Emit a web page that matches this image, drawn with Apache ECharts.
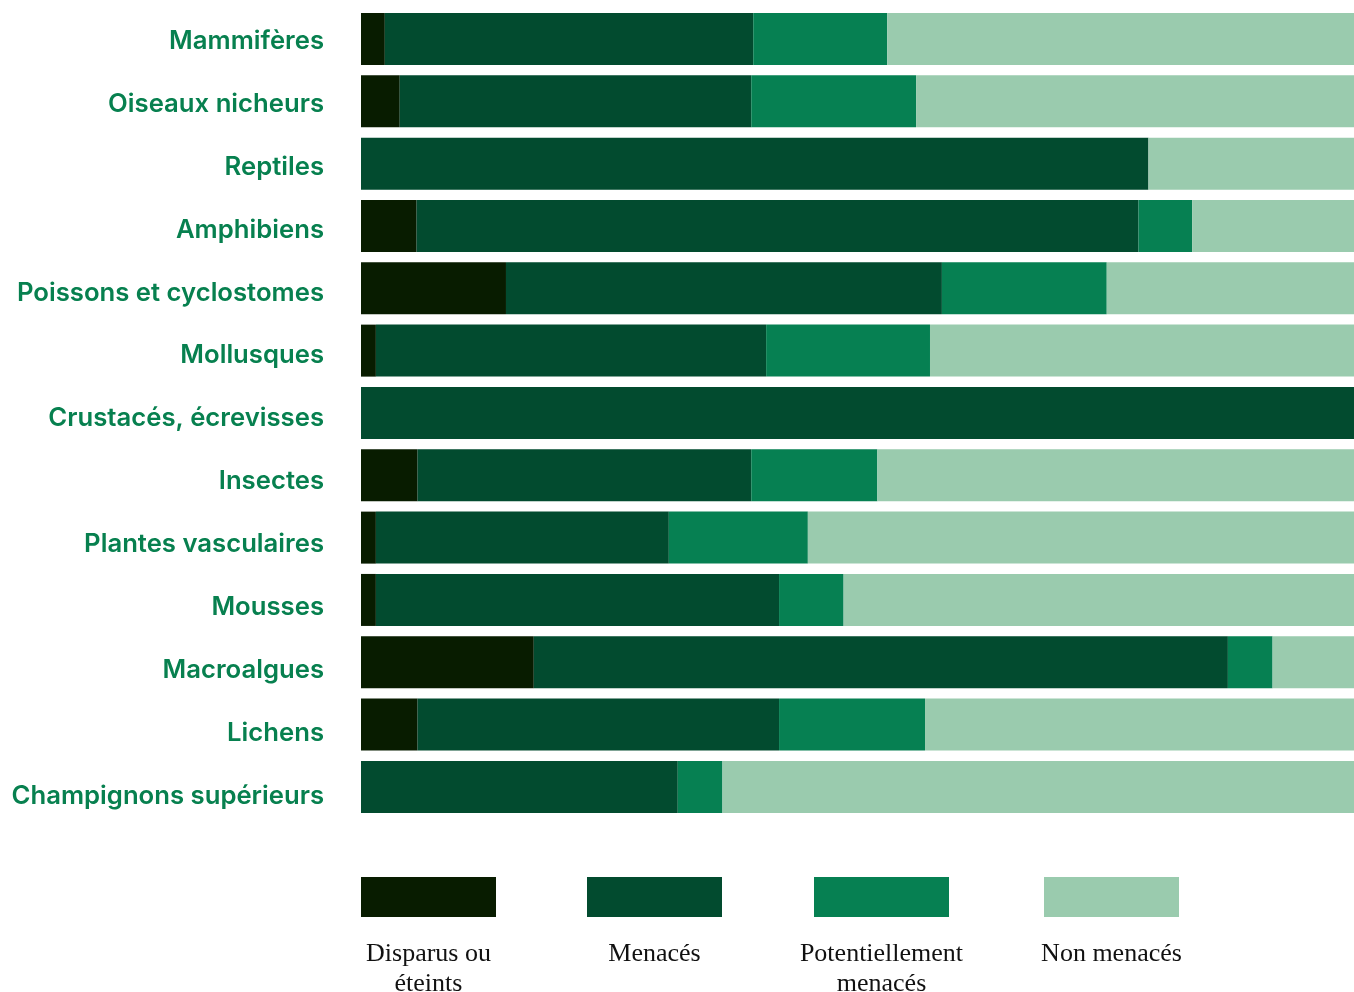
<!DOCTYPE html>
<html><head><meta charset="utf-8">
<script src="https://cdn.jsdelivr.net/npm/echarts@6/dist/echarts.min.js"></script>
<style>html,body{margin:0;padding:0;background:#fff}#c{width:1354px;height:992px}</style>
</head><body><div id="c"></div>
<script>
const categories = ["Mammifères","Oiseaux nicheurs","Reptiles","Amphibiens","Poissons et cyclostomes","Mollusques","Crustacés, écrevisses","Insectes","Plantes vasculaires","Mousses","Macroalgues","Lichens","Champignons supérieurs"];
const seriesNames = ["Disparus ou\néteints","Menacés","Potentiellement\nmenacés","Non menacés"];
const disparus   = [2.4, 3.9, 0,    5.6, 14.6, 1.5, 0,   5.7, 1.5, 1.5, 17.4, 5.7, 0];
const menaces    = [37.1,35.4,79.3, 72.7,43.9, 39.3,100, 33.6,29.5,40.6,69.9, 36.4,31.9];
const potentiel  = [13.5,16.6,0,    5.4, 16.6, 16.5,0,   12.7,14.0,6.5, 4.5,  14.7,4.5];
const nonMenaces = [47.0,44.1,20.7, 16.3,24.9, 42.7,0,   48.0,55.0,51.4,8.2,  43.2,63.6];
const colors = ["#081c00","#024b2f","#068052","#9acbae"];
const values = [disparus, menaces, potentiel, nonMenaces];

const chart = echarts.init(document.getElementById('c'));
const legendX = [361, 587, 814, 1044];
const option = {
  animation:false,
  grid:[{left:361, right:0, top:7.8, height:810.3},
        {left:361, right:0, top:9.8, height:817.7}],
  xAxis:[{type:'value', min:0, max:100, show:false, gridIndex:0},
         {type:'value', min:0, max:100, show:false, gridIndex:1}],
  yAxis:[{type:'category', data:categories, inverse:true, gridIndex:0,
    axisLine:{show:false}, axisTick:{show:false}, splitLine:{show:false}, axisLabel:{show:false}},
    {type:'category', data:categories, inverse:true, gridIndex:1,
    axisLine:{show:false}, axisTick:{show:false}, splitLine:{show:false},
    axisLabel:{margin:37, color:'#07804f', fontFamily:'Inter', fontWeight:600, fontSize:25.7}}],
  legend: seriesNames.map((n,i)=>({
    data:[n], left:legendX[i], top:877, icon:'rect', itemWidth:135, itemHeight:40,
    formatter:()=>'', selectedMode:false, padding:0
  })),
  graphic: seriesNames.map((n,i)=>({
    type:'text', x:legendX[i]+67.5, y:939,
    style:{text:n, fill:'#111', font:'26px "Liberation Serif"', align:'center', verticalAlign:'top', lineHeight:30}
  })),
  series: seriesNames.map((n,i)=>({
    name:n, type:'bar', stack:'s', barWidth:52, data:values[i],
    itemStyle:{color:colors[i]}, emphasis:{disabled:true}
  }))
};
chart.setOption(option);
</script></body></html>
